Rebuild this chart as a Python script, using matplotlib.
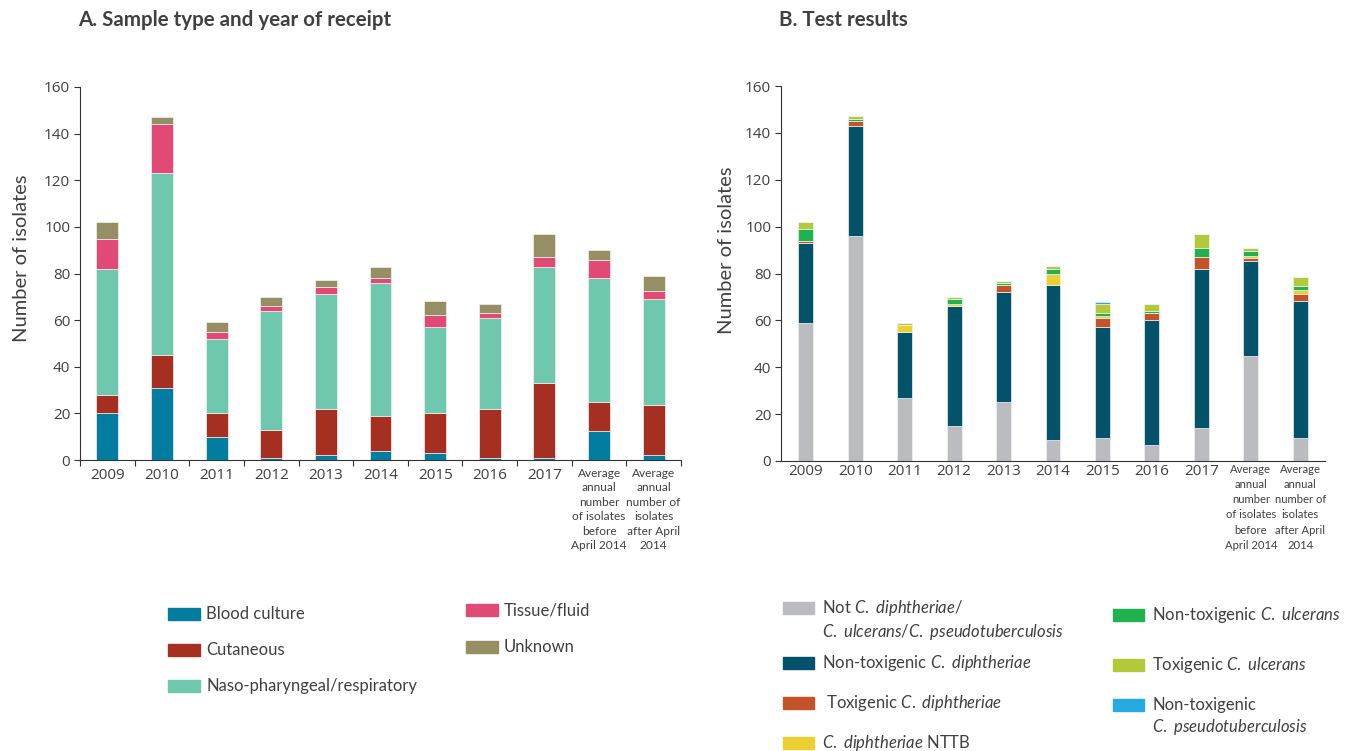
import numpy as np
import matplotlib
matplotlib.use("Agg")
import matplotlib.pyplot as plt
from matplotlib.patches import Rectangle
from matplotlib import font_manager
import matplotlib.transforms as mtransforms

plt.rcParams["font.family"] = ["Lato", "DejaVu Sans"]
plt.rcParams["mathtext.fontset"] = "custom"
plt.rcParams["mathtext.rm"] = "Lato"
plt.rcParams["mathtext.it"] = "Lato:italic"
plt.rcParams["text.color"] = "#404040"

installed = {f.name for f in font_manager.fontManager.ttflist}
if "Liberation Sans Narrow" in installed:
    narrow_font, narrow_size = "Liberation Sans Narrow", 10
else:
    narrow_font, narrow_size = "Lato", 8.6
# line pitch of the average labels, about 15.8 px in the reference
pitch_px = 15.8

# categories
years = ["2009", "2010", "2011", "2012", "2013", "2014", "2015", "2016", "2017"]
avg_labels = ["Average\nannual\nnumber\nof isolates\nbefore\nApril 2014",
              "Average\nannual\nnumber of\nisolates\nafter April\n2014"]
categories = years + avg_labels

# A. sample type
blood = [20, 31, 10, 1, 2, 4, 3, 1, 1, 12.4, 2]
cutaneous = [8, 14, 10, 12, 20, 15, 17, 21, 32, 12.6, 21.6]
naso = [54, 78, 32, 51, 49, 57, 37, 39, 50, 52.9, 45.6]
tissue = [13, 21, 3, 2, 3, 2, 5, 2, 4, 8, 3.2]
unknown = [7, 3, 4, 4, 3, 5, 6, 4, 10, 4.3, 6.7]

# B. test results
not_cd = [59, 96, 27, 15, 25, 9, 10, 7, 14, 44.6, 10]
nontox_dip = [34, 47, 28, 51, 47, 66, 47, 53, 68, 40.9, 58.3]
tox_dip = [1, 2, 0, 0, 3, 0, 4, 3, 5, 1.3, 3]
nttb = [0, 0, 3, 1, 0, 5, 1, 0, 0, 0.7, 1.5]
nontox_ulc = [5, 1, 0, 2, 1, 2, 1, 1, 4, 2, 1.9]
tox_ulc = [3, 1, 1, 1, 1, 1, 4, 3, 6, 1.3, 3.7]
nontox_pseudo = [0, 0, 0, 0, 0, 0, 1, 0, 0, 0, 0]

series_a = [("Blood culture", blood, "#027d9f"),
            ("Cutaneous", cutaneous, "#a53022"),
            ("Naso-pharyngeal/respiratory", naso, "#6fc7ae"),
            ("Tissue/fluid", tissue, "#e04a74"),
            ("Unknown", unknown, "#968f63")]

series_b = [(r"Not $C.\ diphtheriae$/" + "\n" + r"$C.\ ulcerans$/$C.\ pseudotuberculosis$", not_cd, "#bbbcc0"),
            (r"Non-toxigenic $C.\ diphtheriae$", nontox_dip, "#02536a"),
            (r" Toxigenic $C.\ diphtheriae$", tox_dip, "#c4532a"),
            (r"$C.\ diphtheriae$ NTTB", nttb, "#ebcf33"),
            (r"Non-toxigenic $C.\ ulcerans$", nontox_ulc, "#1fb24e"),
            (r"Toxigenic $C.\ ulcerans$", tox_ulc, "#b4c93a"),
            ("Non-toxigenic\n" + r"$C.\ pseudotuberculosis$", nontox_pseudo, "#27aae1")]

W, H = 1354, 751
fig = plt.figure(figsize=(W / 100, H / 100), dpi=100)

def fx(px):
    return px / W

def fy(py):
    return 1 - py / H

axA = fig.add_axes([fx(80), fy(460), fx(681) - fx(80), fy(87) - fy(460)])
axB = fig.add_axes([fx(781), fy(461), fx(1325) - fx(781), fy(86) - fy(461)])

x = np.arange(len(categories))

def stack(ax, series, width):
    bottom = np.zeros(len(categories))
    for name, vals, col in series:
        vals = np.array(vals, dtype=float)
        ax.bar(x, vals, width, bottom=bottom, color=col, edgecolor="#f2f2f2", linewidth=0.5)
        bottom += vals

stack(axA, series_a, 0.40)
stack(axB, series_b, 0.30)

for ax, pad_px, avg_fs in ((axA, 8, narrow_size), (axB, 3, narrow_size - 0.5)):
    ax.set_xlim(-0.5, len(categories) - 0.5)
    ax.set_ylim(0, 160)
    ax.set_yticks(np.arange(0, 161, 20))
    ax.spines["top"].set_visible(False)
    ax.spines["right"].set_visible(False)
    ax.spines["left"].set_color("#333333")
    ax.spines["bottom"].set_color("#333333")
    ax.tick_params(axis="y", direction="out", length=4, color="#333333",
                   labelsize=11, labelcolor="#404040", pad=3, labelfontfamily="Open Sans")
    # category labels below the axis
    trans = mtransforms.offset_copy(
        mtransforms.blended_transform_factory(ax.transData, ax.transAxes),
        fig=fig, y=-pad_px * 72 / 100, units="points")
    ls = pitch_px / (0.96 * avg_fs * 100 / 72)
    for i, lab in enumerate(categories):
        if i < len(years):
            ax.text(i, 0, lab, transform=trans, ha="center", va="top", fontsize=11,
                    fontfamily="Open Sans", color="#404040")
        else:
            ax.text(i, 0, lab, transform=trans, ha="center", va="top", fontsize=avg_fs,
                    fontfamily=narrow_font, color="#404040", linespacing=ls,
                    multialignment="center")

# A: ticks at category boundaries, B: none
axA.set_xticks(np.arange(-0.5, len(categories), 1))
axA.set_xticklabels([])
axA.tick_params(axis="x", which="major", direction="out", length=4, color="#333333")
axB.set_xticks([])

fig.text(fx(78), fy(20), "A. Sample type and year of receipt", fontsize=14.8,
         fontweight="bold", color="#404040", ha="left", va="center")
fig.text(fx(779), fy(20), "B. Test results", fontsize=14.8,
         fontweight="bold", color="#404040", ha="left", va="center")
fig.text(fx(22), fy(258), "Number of isolates", rotation=90, fontsize=14.5,
         ha="center", va="center", color="#404040")
fig.text(fx(727), fy(250), "Number of isolates", rotation=90, fontsize=14.5,
         ha="center", va="center", color="#404040")

def legend_item(px, py, label, color, pw=32, text_dx=6, ty=None, va="center", fs=12):
    fig.add_artist(Rectangle((fx(px), fy(py + 6)), fx(pw), fy(0) - fy(12),
                             transform=fig.transFigure, color=color))
    fig.text(fx(px + pw + text_dx), fy(py if ty is None else ty), label, fontsize=fs,
             va=va, ha="left", color="#404040", linespacing=1.25)

# legend A
legend_item(168, 614, series_a[0][0], series_a[0][2])
legend_item(168, 650, series_a[1][0], series_a[1][2])
legend_item(168, 686, series_a[2][0], series_a[2][2])
legend_item(466, 610, series_a[3][0], series_a[3][2])
legend_item(466, 647, series_a[4][0], series_a[4][2])

# legend B
legend_item(783, 608, series_b[0][0], series_b[0][2], pw=31, text_dx=8, ty=598, va="top")
legend_item(783, 663, series_b[1][0], series_b[1][2], pw=31, text_dx=8)
legend_item(783, 703, series_b[2][0], series_b[2][2], pw=31, text_dx=8)
legend_item(783, 743, series_b[3][0], series_b[3][2], pw=31, text_dx=8)
legend_item(1113, 615, series_b[4][0], series_b[4][2], pw=31, text_dx=8)
legend_item(1113, 665, series_b[5][0], series_b[5][2], pw=31, text_dx=8)
legend_item(1113, 705, series_b[6][0], series_b[6][2], pw=31, text_dx=8, ty=697, va="top")

fig.savefig("out.png", dpi=100)
